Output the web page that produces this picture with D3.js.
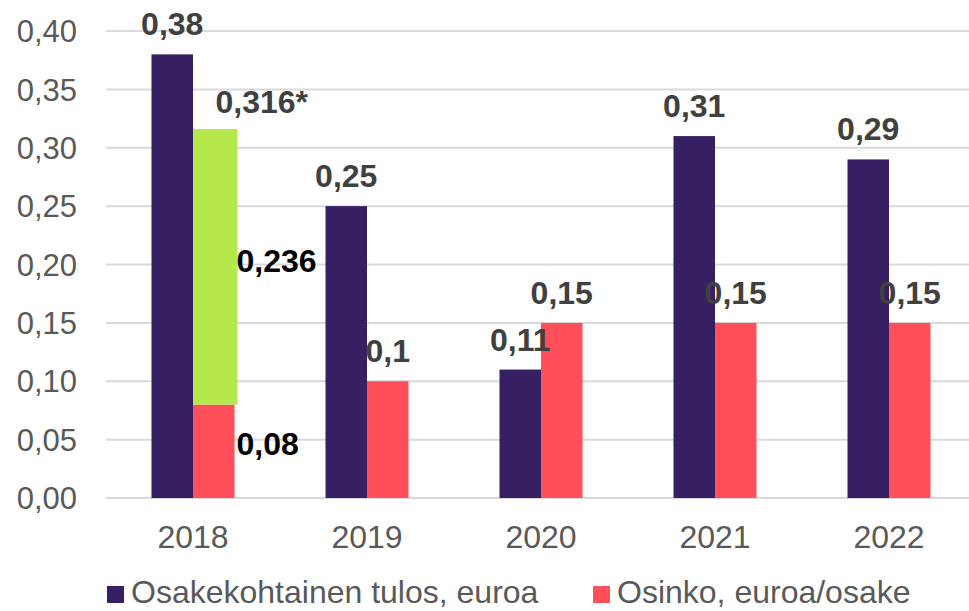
<!DOCTYPE html>
<html lang="fi">
<head>
<meta charset="UTF-8">
<title>Osakekohtainen tulos ja osinko</title>
<style>
  body, html { margin: 0; padding: 0; background: #fff; }
  svg { display: block; font-family: "Liberation Sans", Arial, sans-serif; }
</style>
</head>
<body>
<svg id="chart" width="969" height="611"></svg>
<script src="https://d3js.org/d3.v7.min.js"></script>
<script>
// data
var years = ["2018", "2019", "2020", "2021", "2022"];
var eps = [0.38, 0.25, 0.11, 0.31, 0.29];        // Osakekohtainen tulos, euroa
var dividend = [0.08, 0.10, 0.15, 0.15, 0.15];   // Osinko, euroa/osake
var extra2018 = 0.236;                           // extra dividend stacked on 2018
var epsLabels = ["0,38", "0,25", "0,11", "0,31", "0,29"];
var divLabels = ["0,08", "0,1", "0,15", "0,15", "0,15"];
var yTicks = [0, 0.05, 0.10, 0.15, 0.20, 0.25, 0.30, 0.35, 0.40];
var legendNames = ["Osakekohtainen tulos, euroa", "Osinko, euroa/osake"];

var purple = "#371F63", red = "#FF4F5A", green = "#B5E84A";

var svg = d3.select("#chart");

var y = d3.scaleLinear().domain([0, 0.40]).range([498, 31]);
var x0 = d3.scaleBand().domain(years).range([106, 976]);
var groupW = 83;
var x1 = d3.scaleBand().domain(["eps", "div"]).range([0, groupW]);
function gx(yr) { return x0(yr) + (x0.bandwidth() - groupW) / 2; }

// gridlines
svg.append("g").selectAll("line").data(yTicks).join("line")
  .attr("x1", 106).attr("x2", 969)
  .attr("y1", function (d) { return y(d); })
  .attr("y2", function (d) { return y(d); })
  .attr("stroke", "#D9D9D9").attr("stroke-width", 2);

// y axis labels
svg.append("g").selectAll("text").data(yTicks).join("text")
  .attr("x", 77).attr("y", function (d) { return y(d); })
  .attr("dy", "0.36em")
  .attr("text-anchor", "end")
  .attr("font-size", 31).attr("fill", "#595959")
  .text(function (d) { return d.toFixed(2).replace(".", ","); });

// x axis labels
svg.append("g").selectAll("text").data(years).join("text")
  .attr("x", function (d) { return x0(d) + x0.bandwidth() / 2; })
  .attr("y", 548)
  .attr("text-anchor", "middle")
  .attr("font-size", 32).attr("fill", "#595959")
  .text(function (d) { return d; });

// bars
var bars = svg.append("g");
bars.selectAll("rect.eps").data(years).join("rect")
  .attr("class", "eps")
  .attr("x", function (d) { return gx(d) + x1("eps"); })
  .attr("width", x1.bandwidth())
  .attr("y", function (d, i) { return y(eps[i]); })
  .attr("height", function (d, i) { return y(0) - y(eps[i]); })
  .attr("fill", purple);

bars.selectAll("rect.div").data(years).join("rect")
  .attr("class", "div")
  .attr("x", function (d) { return gx(d) + x1("div"); })
  .attr("width", x1.bandwidth())
  .attr("y", function (d, i) { return y(dividend[i]); })
  .attr("height", function (d, i) { return y(0) - y(dividend[i]); })
  .attr("fill", red);

// 2018 extra dividend, stacked on top of the regular one
bars.append("rect")
  .attr("x", gx("2018") + x1("div"))
  .attr("width", x1.bandwidth() + 3)
  .attr("y", y(dividend[0] + extra2018))
  .attr("height", y(dividend[0]) - y(dividend[0] + extra2018))
  .attr("fill", green);

// value labels
var lab = svg.append("g").attr("font-size", 32).attr("font-weight", "bold");
lab.selectAll("text.eps").data(years).join("text")
  .attr("class", "eps")
  .attr("x", function (d) { return gx(d) + x1("eps") + x1.bandwidth() / 2; })
  .attr("y", function (d, i) { return y(eps[i]) - 19; })
  .attr("text-anchor", "middle").attr("fill", "#404040")
  .text(function (d, i) { return epsLabels[i]; });

lab.selectAll("text.div").data(years.slice(1)).join("text")
  .attr("class", "div")
  .attr("x", function (d) { return gx(d) + x1("div") + x1.bandwidth() / 2; })
  .attr("y", function (d, i) { return y(dividend[i + 1]) - 19; })
  .attr("text-anchor", "middle").attr("fill", "#404040")
  .text(function (d, i) { return divLabels[i + 1]; });

var x18 = gx("2018") + x1("div") + x1.bandwidth();
lab.append("text")
  .attr("x", x18 - 19).attr("y", y(dividend[0] + extra2018) - 16)
  .attr("fill", "#404040")
  .text((dividend[0] + extra2018).toFixed(3).replace(".", ",") + "*");
lab.append("text")
  .attr("x", x18 + 2).attr("y", y(dividend[0] + extra2018 / 2) + 5)
  .attr("fill", "#000")
  .text(String(extra2018).replace(".", ","));
lab.append("text")
  .attr("x", x18 + 2).attr("y", y(dividend[0] / 2) + 4)
  .attr("fill", "#000")
  .text(divLabels[0]);

// legend
var leg = svg.append("g");
var legX = [107, 593], legCol = [purple, red];
legendNames.forEach(function (n, i) {
  leg.append("rect").attr("x", legX[i]).attr("y", 586).attr("width", 17).attr("height", 17)
    .attr("fill", legCol[i]);
  leg.append("text").attr("x", legX[i] + 24).attr("y", 603)
    .attr("font-size", 32).attr("fill", "#595959")
    .text(n);
});
</script>
</body>
</html>
